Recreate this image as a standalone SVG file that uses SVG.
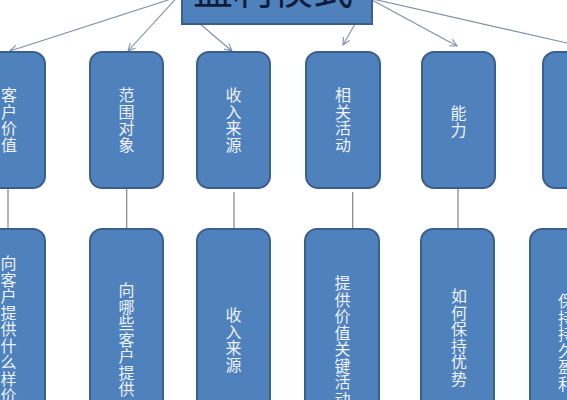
<svg xmlns="http://www.w3.org/2000/svg" width="567" height="400" viewBox="0 0 567 400">
  <style>
    .box { fill: #4f81bd; stroke: #3b5f8c; stroke-width: 2; }
    .lbl { font-family: "Noto Sans CJK SC", "Noto Sans", sans-serif; font-size: 16px; fill: #eef2f8; text-anchor: middle; }
    .title { font-family: "Noto Sans CJK SC", "Noto Sans", sans-serif; font-size: 40px; fill: #0e1c3c; text-anchor: middle; }
    .arr { stroke: #7d8ea8; stroke-width: 1.1; fill: none; marker-end: url(#ah); }
    .vline { stroke: #8c8c8c; stroke-width: 1.3; fill: none; }
  </style>
  <defs>
    <marker id="ah" viewBox="0 0 10 10" refX="9" refY="5" markerWidth="9" markerHeight="9" markerUnits="userSpaceOnUse" orient="auto">
      <path d="M1,1 L9,5 L1,9" fill="none" stroke="#7d8ea8" stroke-width="1.2"/>
    </marker>
  </defs>
  <rect width="567" height="400" fill="#ffffff"/>

  <g id="connectors">
    <line class="arr" x1="230" y1="-20" x2="10" y2="51"/>
    <line class="arr" x1="193" y1="-20" x2="128" y2="51"/>
    <line class="arr" x1="200" y1="24" x2="232" y2="51"/>
    <line class="arr" x1="355" y1="24" x2="343" y2="45"/>
    <line class="arr" x1="335" y1="-20" x2="457" y2="46"/>
    <line class="arr" x1="333" y1="-10" x2="598" y2="50"/>
    <line class="vline" x1="8" y1="188" x2="8" y2="229"/>
    <line class="vline" x1="126.7" y1="188" x2="126.7" y2="229"/>
    <line class="vline" x1="234" y1="192" x2="234" y2="229"/>
    <line class="vline" x1="352.7" y1="192" x2="352.7" y2="229"/>
    <line class="vline" x1="458" y1="188" x2="458" y2="229"/>
  </g>

  <g id="root">
    <rect class="box" x="182" y="-20" width="190" height="44"/>
    <text class="title" x="273" y="4">盈利模式</text>
  </g>

  <g id="n1">
    <rect class="box" x="-29" y="52" width="74" height="136" rx="12"/>
    <text class="lbl"><tspan x="9" y="101">客</tspan><tspan x="9" dy="16.5">户</tspan><tspan x="9" dy="16.5">价</tspan><tspan x="9" dy="16.5">值</tspan></text>
  </g>
  <g id="n2">
    <rect class="box" x="90" y="52" width="73" height="136" rx="12"/>
    <text class="lbl"><tspan x="126.5" y="101">范</tspan><tspan x="126.5" dy="16.5">围</tspan><tspan x="126.5" dy="16.5">对</tspan><tspan x="126.5" dy="16.5">象</tspan></text>
  </g>
  <g id="n3">
    <rect class="box" x="197" y="52" width="73" height="136" rx="12"/>
    <text class="lbl"><tspan x="233.5" y="101">收</tspan><tspan x="233.5" dy="16.5">入</tspan><tspan x="233.5" dy="16.5">来</tspan><tspan x="233.5" dy="16.5">源</tspan></text>
  </g>
  <g id="n4">
    <rect class="box" x="306" y="52" width="74" height="136" rx="12"/>
    <text class="lbl"><tspan x="343" y="101">相</tspan><tspan x="343" dy="16.5">关</tspan><tspan x="343" dy="16.5">活</tspan><tspan x="343" dy="16.5">动</tspan></text>
  </g>
  <g id="n5">
    <rect class="box" x="422" y="52" width="73" height="136" rx="12"/>
    <text class="lbl"><tspan x="458.5" y="119">能</tspan><tspan x="458.5" dy="16.5">力</tspan></text>
  </g>
  <g id="n6">
    <rect class="box" x="543" y="52" width="74" height="136" rx="12"/>
  </g>

  <g id="d1">
    <rect class="box" x="-29" y="229" width="74" height="220" rx="12"/>
    <text class="lbl"><tspan x="8.5" y="269">向</tspan><tspan x="8.5" dy="16.5">客</tspan><tspan x="8.5" dy="16.5">户</tspan><tspan x="8.5" dy="16.5">提</tspan><tspan x="8.5" dy="16.5">供</tspan><tspan x="8.5" dy="16.5">什</tspan><tspan x="8.5" dy="16.5">么</tspan><tspan x="8.5" dy="16.5">样</tspan><tspan x="8.5" dy="16.5">价</tspan></text>
  </g>
  <g id="d2">
    <rect class="box" x="90" y="229" width="73" height="220" rx="12"/>
    <text class="lbl"><tspan x="126.5" y="296">向</tspan><tspan x="126.5" dy="16.5">哪</tspan><tspan x="126.5" dy="16.5">些</tspan><tspan x="126.5" dy="16.5">客</tspan><tspan x="126.5" dy="16.5">户</tspan><tspan x="126.5" dy="16.5">提</tspan><tspan x="126.5" dy="16.5">供</tspan></text>
  </g>
  <g id="d3">
    <rect class="box" x="197" y="229" width="73" height="220" rx="12"/>
    <text class="lbl"><tspan x="233.5" y="321">收</tspan><tspan x="233.5" dy="16.5">入</tspan><tspan x="233.5" dy="16.5">来</tspan><tspan x="233.5" dy="16.5">源</tspan></text>
  </g>
  <g id="d4">
    <rect class="box" x="305" y="229" width="74" height="220" rx="12"/>
    <text class="lbl"><tspan x="342.5" y="289">提</tspan><tspan x="342.5" dy="16.5">供</tspan><tspan x="342.5" dy="16.5">价</tspan><tspan x="342.5" dy="16.5">值</tspan><tspan x="342.5" dy="16.5">关</tspan><tspan x="342.5" dy="16.5">键</tspan><tspan x="342.5" dy="16.5">活</tspan><tspan x="342.5" dy="16.5">动</tspan></text>
  </g>
  <g id="d5">
    <rect class="box" x="421" y="229" width="73" height="220" rx="12"/>
    <text class="lbl"><tspan x="459" y="302">如</tspan><tspan x="459" dy="16.5">何</tspan><tspan x="459" dy="16.5">保</tspan><tspan x="459" dy="16.5">持</tspan><tspan x="459" dy="16.5">优</tspan><tspan x="459" dy="16.5">势</tspan></text>
  </g>
  <g id="d6">
    <rect class="box" x="530" y="229" width="72" height="220" rx="12"/>
    <text class="lbl"><tspan x="566" y="307">保</tspan><tspan x="566" dy="16.5">持</tspan><tspan x="566" dy="16.5">持</tspan><tspan x="566" dy="16.5">久</tspan><tspan x="566" dy="16.5">盈</tspan><tspan x="566" dy="16.5">利</tspan></text>
  </g>
</svg>
